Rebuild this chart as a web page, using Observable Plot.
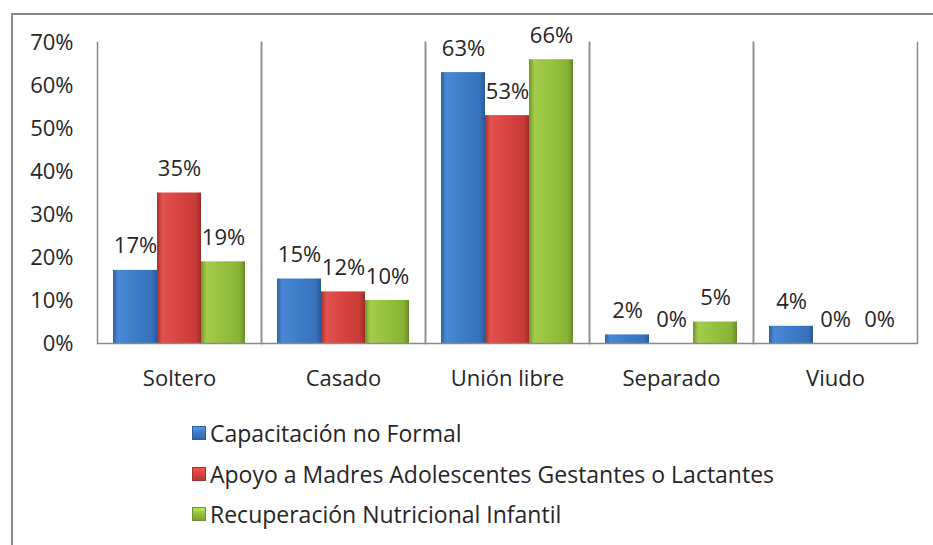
<!DOCTYPE html>
<html>
<head>
<meta charset="utf-8">
<script src="https://cdn.jsdelivr.net/npm/d3@7"></script>
<script src="https://cdn.jsdelivr.net/npm/@observablehq/plot@0.6"></script>
<style>
  html, body { margin: 0; padding: 0; background: #fff; width: 933px; height: 545px; overflow: hidden; }
  body { position: relative; font-family: "Open Sans", sans-serif; }
  #frame { position: absolute; left: 11px; top: 13px; width: 1000px; height: 700px; border: 2px solid #8a8a8a; box-sizing: border-box; }
  #chart { position: absolute; left: 0; top: 0; }
  #legend { position: absolute; left: 192px; top: 413px; font-size: 23px; color: #262626; }
  .item { height: 40.5px; line-height: 40px; display: flex; align-items: center; white-space: pre; }
  .sw { width: 14px; height: 14px; margin-right: 4px; box-sizing: border-box; }
</style>
</head>
<body>
<svg width="0" height="0" style="position:absolute">
  <defs>
    <linearGradient id="g0" x1="0" x2="1" y1="0" y2="0">
      <stop offset="0" stop-color="#2d62a6"/><stop offset="0.12" stop-color="#4a88d4"/>
      <stop offset="0.5" stop-color="#3d7cc9"/><stop offset="0.88" stop-color="#3872bb"/><stop offset="1" stop-color="#275a99"/>
    </linearGradient>
    <linearGradient id="g1" x1="0" x2="1" y1="0" y2="0">
      <stop offset="0" stop-color="#a52f2d"/><stop offset="0.12" stop-color="#e25250"/>
      <stop offset="0.5" stop-color="#d8433f"/><stop offset="0.88" stop-color="#c93c39"/><stop offset="1" stop-color="#9a2b29"/>
    </linearGradient>
    <linearGradient id="g2" x1="0" x2="1" y1="0" y2="0">
      <stop offset="0" stop-color="#6f942a"/><stop offset="0.12" stop-color="#a3cc4a"/>
      <stop offset="0.5" stop-color="#95c13e"/><stop offset="0.88" stop-color="#88b236"/><stop offset="1" stop-color="#678a26"/>
    </linearGradient>
  </defs>
</svg>
<div id="frame"></div>
<div id="chart"></div>
<div id="legend"></div>
<script>
const categories = ["Soltero", "Casado", "Unión libre", "Separado", "Viudo"];
const series = [
  "Capacitación no Formal",
  "Apoyo a Madres Adolescentes Gestantes o Lactantes",
  "Recuperación Nutricional Infantil"
];
const capacitacion = [17, 15, 63, 2, 4];
const apoyoMadres = [35, 12, 53, 0, 0];
const recuperacion = [19, 10, 66, 5, 0];
const yTicks = [0, 10, 20, 30, 40, 50, 60, 70];

const colors = ["#3d7cc9", "#d8433f", "#95c13e"];
const fills = ["url(#g0)", "url(#g1)", "url(#g2)"];

const seriesValues = [capacitacion, apoyoMadres, recuperacion];
const data = [];
categories.forEach((c, i) => {
  series.forEach((s, j) => data.push({ category: c, series: s, value: seriesValues[j][i] }));
});

const chart = Plot.plot({
  width: 933,
  height: 400,
  marginTop: 42,
  marginBottom: 57,
  marginLeft: 97,
  marginRight: 16,
  style: { fontFamily: "'Open Sans', sans-serif", fontSize: "22px", color: "#262626", background: "transparent" },
  fx: { domain: categories, padding: 0, label: null, tickSize: 0, tickPadding: 27 },
  x: { domain: series, paddingInner: 0, paddingOuter: 0.355, axis: null },
  y: { domain: [0, 70], ticks: yTicks, tickFormat: d => d + "%", label: null, tickSize: 0, tickPadding: 24 },
  color: { domain: series, range: fills },
  marks: [
    Plot.frame({ anchor: "left", stroke: "#8a8a8a", strokeWidth: 1.5 }),
    Plot.frame({ anchor: "right", stroke: "#8a8a8a", strokeWidth: 1.5 }),
    Plot.barY(data, { fx: "category", x: "series", y: "value", fill: "series" }),
    Plot.ruleY([0], { stroke: "#8a8a8a", strokeWidth: 1.5 }),
    Plot.text(data, { fx: "category", x: "series", y: "value", text: d => d.value + "%", dy: -24, fill: "#262626", fontSize: 22 })
  ]
});
document.getElementById("chart").appendChild(chart);

const legend = document.getElementById("legend");
series.forEach((s, j) => {
  const item = document.createElement("div");
  item.className = "item";
  const sw = document.createElement("span");
  sw.className = "sw";
  sw.style.background = `linear-gradient(to bottom, ${d3.color(colors[j]).brighter(0.6)}, ${colors[j]} 45%, ${d3.color(colors[j]).darker(0.5)})`;
  sw.style.border = `1px solid ${d3.color(colors[j]).darker(0.8)}`;
  const t = document.createElement("span");
  t.textContent = s;
  item.appendChild(sw);
  item.appendChild(t);
  legend.appendChild(item);
});
</script>
</body>
</html>
